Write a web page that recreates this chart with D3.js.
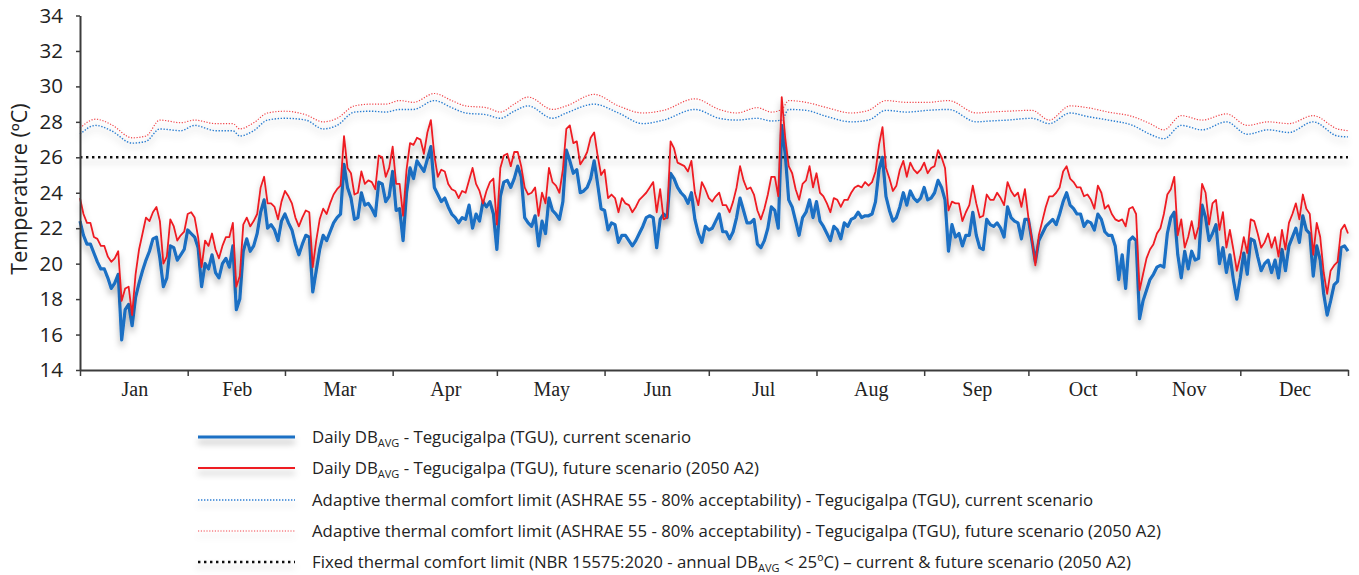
<!DOCTYPE html>
<html>
<head>
<meta charset="utf-8">
<script src="https://cdn.jsdelivr.net/npm/d3@7"></script>
<style>
  body { margin: 0; background: #fff; }
  svg text { font-family: "Open Sans", Lato, sans-serif; fill: #222; }
</style>
</head>
<body>
<script>
// month labels and the day-of-year where each month starts
var months = ["Jan","Feb","Mar","Apr","May","Jun","Jul","Aug","Sep","Oct","Nov","Dec"];
var monthStarts = [0,31,59,90,120,151,181,212,243,273,304,334,365];
var yTicks = [14,16,18,20,22,24,26,28,30,32,34];

// daily mean dry-bulb temperature, current scenario (day 0 = 1 Jan)
var tempCurrent = [
  22.4,21.6,21.1,21.1,20.6,20.1,19.7,19.7,19.2,18.6,
  18.9,19.4,15.7,17.4,17.7,16.5,18.1,18.9,19.6,20.2,
  20.7,21.4,21.5,20.3,18.7,19.2,21.0,20.9,20.2,20.5,
  20.8,21.9,21.7,21.5,20.9,18.7,20.0,19.7,20.5,19.5,
  19.2,20.0,20.3,19.8,21.0,17.4,18.0,20.7,21.4,20.7,
  21.0,21.7,22.9,23.6,22.0,22.2,21.9,21.3,22.4,22.8,
  22.3,21.9,21.1,20.5,21.1,21.6,21.5,18.4,19.6,20.8,
  21.6,21.3,21.8,22.3,22.6,22.8,25.6,24.3,23.7,22.5,
  22.6,24.0,23.3,23.4,23.1,22.7,24.6,24.5,23.5,23.8,
  25.2,23.0,23.1,21.3,24.0,25.4,24.8,25.8,25.5,25.2,
  25.9,26.6,24.3,23.9,23.5,23.7,23.2,22.8,22.6,22.3,
  22.6,22.5,23.3,22.0,22.8,22.4,23.5,23.2,23.5,22.8,
  20.8,23.8,24.6,24.7,24.3,24.8,25.5,24.9,22.6,22.3,
  22.1,22.7,21.0,22.4,21.7,23.7,23.0,22.8,22.5,23.5,
  26.4,25.8,25.1,25.3,24.0,24.1,24.3,24.8,25.8,24.5,
  23.1,23.0,21.9,22.3,22.2,21.2,21.6,21.6,21.3,21.0,
  21.3,21.7,22.1,22.6,22.7,22.6,20.9,22.5,22.8,22.6,
  25.1,24.8,24.3,24.0,23.8,23.4,24.0,22.5,21.7,21.2,
  22.1,21.9,22.0,22.4,22.8,21.8,21.8,21.4,21.8,22.6,
  23.7,23.0,22.3,22.3,22.5,21.1,20.9,21.3,22.0,23.2,
  23.0,22.0,27.8,26.2,23.6,23.2,22.4,21.6,22.6,22.9,
  23.6,22.6,23.5,22.4,22.1,21.7,21.3,22.1,21.9,21.4,
  22.3,22.1,22.5,22.6,22.9,22.6,22.7,22.7,22.8,23.5,
  25.3,26.0,23.8,23.0,22.4,22.6,23.2,24.0,23.3,24.1,
  23.7,23.5,23.7,24.3,23.6,23.7,24.0,24.7,24.3,23.6,
  20.7,22.2,21.5,21.7,21.0,21.6,21.6,22.9,21.6,20.9,
  20.8,22.5,22.2,22.1,22.3,22.0,21.5,23.2,22.6,22.4,
  22.3,21.4,22.5,22.5,21.3,20.1,21.3,21.7,22.1,22.3,
  22.5,22.2,22.8,23.5,24.0,23.3,23.1,22.8,22.8,22.1,
  22.4,22.3,21.9,22.8,22.5,21.8,21.6,21.6,21.0,19.1,
  20.5,18.6,21.3,21.5,21.3,16.9,17.9,18.5,19.1,19.4,
  19.8,19.9,19.8,21.7,22.6,22.9,20.5,19.2,20.7,19.7,
  20.7,20.2,20.3,23.3,22.6,21.3,21.7,22.2,20.0,20.9,
  19.5,20.5,19.1,18.0,19.2,20.6,19.4,21.4,21.3,20.4,
  19.6,20.0,20.2,19.5,20.2,19.2,20.8,19.6,21.0,21.5,
  22.0,21.2,22.7,21.9,21.7,19.3,21.0,20.2,18.3,17.1,
  17.9,18.8,19.0,20.9,21.0,20.7
];

// daily mean dry-bulb temperature, future scenario (2050 A2)
var tempFuture = [
  23.7,22.8,22.3,22.3,21.5,21.4,21.0,21.0,20.4,20.1,
  20.3,20.7,17.9,18.6,18.7,17.1,19.4,20.8,21.7,22.6,
  22.4,22.9,23.2,22.4,20.0,20.4,22.5,22.1,21.3,21.6,
  21.8,22.8,22.9,22.6,21.5,19.8,21.3,21.0,21.7,20.8,
  20.3,21.0,21.5,21.5,22.3,18.7,19.3,22.2,22.6,22.1,
  22.4,22.8,24.3,24.9,23.4,23.4,23.2,22.5,23.5,24.1,
  23.8,23.4,22.6,22.1,22.6,23.0,22.9,19.8,21.3,22.5,
  23.1,22.8,23.4,23.9,24.2,24.4,27.2,25.4,25.1,23.9,
  24.0,25.2,24.5,24.7,24.6,24.2,26.1,26.0,24.9,25.4,
  26.6,24.5,24.5,22.7,25.3,26.8,26.7,27.1,27.0,26.2,
  27.4,28.1,26.1,24.9,25.3,25.2,24.5,24.2,24.1,23.7,
  24.1,24.0,24.7,25.4,24.5,24.1,23.4,24.1,24.6,24.8,
  22.2,25.4,26.1,26.2,25.5,26.3,26.3,25.5,24.3,23.9,
  24.0,24.3,22.7,24.0,23.4,25.4,24.6,24.4,24.0,25.3,
  27.6,27.8,26.8,26.9,25.6,25.9,26.3,27.1,27.4,26.1,
  25.0,25.3,23.7,23.9,23.7,22.9,23.7,23.4,23.3,22.9,
  23.2,23.6,23.8,24.0,24.3,24.6,22.9,24.2,22.5,22.6,
  26.9,26.5,25.7,25.6,25.5,25.2,25.8,24.0,23.3,24.6,
  24.2,23.7,23.5,23.8,24.0,23.3,23.3,22.9,23.5,24.3,
  25.5,24.7,24.2,24.3,23.9,23.0,22.5,23.1,23.9,24.9,
  24.9,23.8,29.4,27.1,25.5,25.1,24.2,23.6,24.5,24.7,
  25.5,24.3,25.1,24.0,23.8,23.4,22.9,23.7,23.6,23.2,
  23.6,23.6,24.0,24.3,24.4,24.3,24.6,24.4,24.6,25.2,
  26.7,27.7,25.4,24.8,24.1,24.4,25.3,25.8,24.9,25.7,
  25.3,25.1,25.3,25.7,25.1,25.4,25.5,26.4,26.0,25.4,
  23.0,23.5,23.4,23.4,22.4,22.9,23.3,24.4,23.4,22.6,
  22.7,23.9,23.6,23.6,24.0,23.7,23.3,24.6,24.1,23.8,
  24.0,23.2,24.2,22.6,21.4,19.9,21.6,22.4,23.2,23.8,
  23.8,24.0,24.3,25.2,25.5,24.8,24.6,24.3,24.3,23.8,
  23.9,23.6,23.1,24.4,24.0,23.1,23.3,22.8,22.5,22.4,
  22.5,22.1,23.1,23.2,22.8,18.5,19.4,20.3,20.8,21.1,
  21.7,22.0,22.8,23.9,24.2,24.9,21.6,22.5,20.9,21.5,
  22.4,21.4,22.1,24.5,24.0,22.2,23.4,23.6,21.9,22.9,
  20.9,21.9,20.8,19.6,20.4,21.5,20.6,22.5,22.4,21.7,
  20.9,21.2,21.7,20.9,21.5,20.4,21.9,20.8,22.3,22.8,
  23.4,22.5,23.9,23.1,22.8,20.5,22.3,21.5,19.5,18.3,
  19.6,19.9,20.1,21.9,22.2,21.7
];

// adaptive comfort limit (ASHRAE 55, 80% acceptability), read at these days
var ashraeDays = [0,4.5,9,15,19,23,29,33,39,44,46,50,54,59,65,70,74,79,84,88,92,96,102,107,111,117,121,125,129,136,140,148,155,162,168,177,184,189,195,199,202,204,209,215,222,227,232,238,244,250,258,262,267,274,279,285,290,296,303,308,312,317,323,330,336,342,348,355,362,365];
var ashraeCurrent = [27.3,27.8,27.5,26.8,26.9,27.6,27.5,27.8,27.5,27.5,27.2,27.5,28.1,28.2,28.1,27.6,27.8,28.55,28.6,28.55,28.7,28.7,29.2,28.8,28.5,28.4,28.2,28.6,28.9,28.2,28.5,29.0,28.5,27.9,28.1,28.7,28.2,28.1,28.2,28.05,28.1,28.7,28.65,28.3,28.0,28.1,28.65,28.55,28.65,28.7,28.0,28.05,28.1,28.2,27.9,28.5,28.3,28.1,27.8,27.3,27.05,27.8,27.55,28.0,27.3,27.55,27.4,28.0,27.2,27.15];
var ashraeFuture = [27.65,28.15,27.85,27.1,27.2,28.1,27.95,28.1,27.9,27.9,27.6,27.95,28.5,28.6,28.4,28.0,28.2,28.9,29.0,29.0,29.2,29.1,29.6,29.2,28.9,28.8,28.55,29.0,29.4,28.7,28.9,29.55,28.9,28.5,28.65,29.3,28.7,28.5,28.8,28.55,28.7,29.2,29.1,28.8,28.5,28.65,29.2,29.1,29.1,29.2,28.5,28.55,28.6,28.65,28.1,28.9,28.8,28.55,28.3,27.9,27.55,28.35,28.1,28.45,27.8,28.0,27.9,28.35,27.6,27.5];

// fixed comfort limit (NBR 15575:2020)
var fixedLimit = 26;

var legendPre  = ["Daily DB", "Daily DB",
  "Adaptive thermal comfort limit (ASHRAE 55 - 80% acceptability) - Tegucigalpa (TGU), current scenario",
  "Adaptive thermal comfort limit (ASHRAE 55 - 80% acceptability) - Tegucigalpa (TGU), future scenario (2050 A2)",
  "Fixed thermal comfort limit (NBR 15575:2020 - annual DB"];
var legendSub  = ["AVG", "AVG", "", "", "AVG"];
var legendPost = [" - Tegucigalpa (TGU), current scenario", " - Tegucigalpa (TGU), future scenario (2050 A2)", "", "",
  " < 25\u00baC) \u2013 current & future scenario (2050 A2)"];

(function() {
  var width = 1359, height = 575;

  var svg = d3.select("body").append("svg")
    .attr("width", width)
    .attr("height", height);

  // soft drop shadow like the original
  var defs = svg.append("defs");
  var f = defs.append("filter").attr("id", "shadow")
    .attr("filterUnits", "userSpaceOnUse")
    .attr("x", 0).attr("y", 0).attr("width", width).attr("height", height);
  f.append("feGaussianBlur").attr("in", "SourceAlpha").attr("stdDeviation", 3);
  f.append("feOffset").attr("dx", 0).attr("dy", 5).attr("result", "blur");
  f.append("feFlood").attr("flood-color", "#000").attr("flood-opacity", 0.3);
  f.append("feComposite").attr("in2", "blur").attr("operator", "in");
  var m = f.append("feMerge");
  m.append("feMergeNode");
  m.append("feMergeNode").attr("in", "SourceGraphic");

  var x = d3.scaleLinear().domain([0, 365]).range([80, 1348]);
  var y = d3.scaleLinear().domain([14, 34]).range([370, 15.5]);

  var styles = [
    {color: "#1a6fc4", w: 3.2, dash: null},
    {color: "#ee1c24", w: 1.8, dash: null},
    {color: "#2b7fd3", w: 1.4, dash: "1.4 1.6"},
    {color: "#f0454a", w: 1.2, dash: "1.2 1.6"},
    {color: "#111", w: 2.6, dash: "2.4 3.6"}
  ];

  var daily = d3.line()
    .x(function(d, i) { return x(i); })
    .y(function(d) { return y(d); });

  var smooth = d3.line()
    .x(function(d, i) { return x(ashraeDays[i]); })
    .y(function(d) { return y(d); })
    .curve(d3.curveMonotoneX);

  var plot = svg.append("g");

  function drawPath(d, st) {
    var p = plot.append("path")
      .attr("d", d)
      .attr("fill", "none")
      .attr("stroke", st.color)
      .attr("stroke-width", st.w)
      .attr("stroke-linejoin", "round")
      .attr("filter", "url(#shadow)");
    if (st.dash) p.attr("stroke-dasharray", st.dash);
    return p;
  }

  drawPath(smooth(ashraeCurrent), styles[2]);
  drawPath(smooth(ashraeFuture), styles[3]);
  drawPath("M" + x(0) + "," + y(fixedLimit) + "H" + x(365), styles[4]);
  drawPath(daily(tempCurrent), styles[0]);
  drawPath(daily(tempFuture), styles[1]);

  // axes
  var yAxis = svg.append("g")
    .attr("transform", "translate(80,0)")
    .call(d3.axisLeft(y).tickValues(yTicks).tickSize(4).tickPadding(13).tickSizeOuter(0));
  yAxis.selectAll("text").style("font-size", "20.5px").attr("fill", "#222");

  svg.append("g")
    .attr("transform", "translate(0,370)")
    .call(d3.axisBottom(x).tickValues(monthStarts).tickSize(6).tickFormat("").tickSizeOuter(0));

  svg.selectAll(".domain").attr("stroke", "#3c3c3c").attr("stroke-width", 2);
  svg.selectAll(".tick line").attr("stroke", "#3c3c3c").attr("stroke-width", 1.5);

  svg.append("g").selectAll("text")
    .data(months)
    .enter().append("text")
    .attr("x", function(d, i) { return x((monthStarts[i] + monthStarts[i + 1]) / 2) + 1; })
    .attr("y", 396)
    .attr("text-anchor", "middle")
    .style("font-family", "'Liberation Serif', serif")
    .style("font-size", "20px")
    .text(function(d) { return d; });

  svg.append("text")
    .attr("transform", "translate(27,189) rotate(-90)")
    .attr("text-anchor", "middle")
    .style("font-size", "21.5px")
    .text("Temperature (\u00baC)");

  // legend
  var rowY = [437, 468, 500, 531, 562];
  var leg = svg.append("g");
  styles.forEach(function(st, i) {
    var l = leg.append("line")
      .attr("x1", 198).attr("x2", 295)
      .attr("y1", rowY[i]).attr("y2", rowY[i])
      .attr("stroke", st.color)
      .attr("stroke-width", st.w)
      .attr("filter", "url(#shadow)");
    if (st.dash) l.attr("stroke-dasharray", st.dash);

    var t = leg.append("text")
      .attr("x", 312).attr("y", rowY[i] + 6)
      .style("font-size", "16.8px");
    t.append("tspan").text(legendPre[i]);
    if (legendSub[i]) {
      t.append("tspan").attr("dy", 4).style("font-size", "11px").text(legendSub[i]);
      t.append("tspan").attr("dy", -4).text(legendPost[i]);
    }
  });
})();
</script>
</body>
</html>
